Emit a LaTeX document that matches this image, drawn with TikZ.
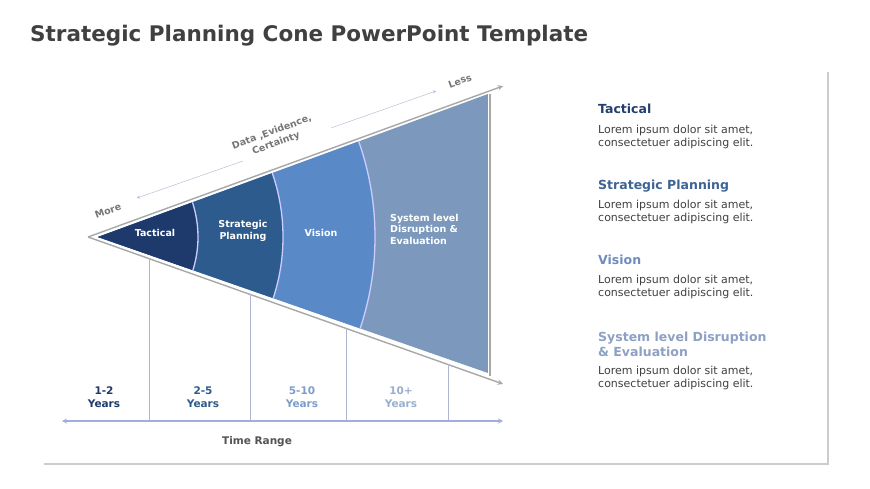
\documentclass[tikz,border=0pt]{standalone}
\usepackage{fontspec}
\setmainfont{DejaVu Sans}
\usepackage{xcolor}
\usetikzlibrary{arrows}
\usetikzlibrary{positioning}
\usetikzlibrary{calc}
\definecolor{tacblue}{HTML}{1E3A6C}
\definecolor{strblue}{HTML}{2D5B8E}
\definecolor{visblue}{HTML}{5A89C8}
\definecolor{sysblue}{HTML}{7C99BD}
\definecolor{conegray}{HTML}{A8A8A8}
\definecolor{tickblue}{HTML}{AEB6D2}
\definecolor{axisblue}{HTML}{A3ACDA}
\definecolor{txtgray}{HTML}{404040}
\definecolor{notegray}{HTML}{767676}
\definecolor{hdone}{HTML}{233F6E}
\definecolor{hdtwo}{HTML}{3E6494}
\definecolor{hdthr}{HTML}{6D8CC0}
\definecolor{hdfour}{HTML}{8DA1C4}
\definecolor{yrthr}{HTML}{7D9DCC}
\definecolor{yrfour}{HTML}{9AAFD0}

\tikzset{
	conelbl/.style={text=white, font=\fontsize{9.5}{11.5}\selectfont\bfseries, align=center, inner sep=0pt},
	notelbl/.style={text=notegray, font=\fontsize{9.5}{12}\selectfont\bfseries, align=center, inner sep=0pt, rotate=20},
	yrlbl/.style={font=\fontsize{10.5}{12.5}\selectfont\bfseries, align=center, inner sep=0pt},
	headlbl/.style={font=\fontsize{12.5}{15}\selectfont\bfseries, anchor=base west, inner sep=0pt, align=left},
	bodylbl/.style={text=txtgray, font=\fontsize{11}{13}\selectfont, anchor=north west, inner sep=0pt, align=left},
	ticks/.style={tickblue, line width=0.9pt},
	bandedge/.style={draw=white!80!blue, line width=1.3pt}
}

\begin{document}
\begin{tikzpicture}[>=stealth, x=1pt, y=-1pt]
			%coordinates
			\coordinate (orig)   at (0,0);
			\coordinate (far)    at (870,489);
			\useasboundingbox[fill=white] (orig) rectangle (far);
			
			\coordinate (PnlA) at (44,464);
			\coordinate (PnlB) at (828,464);
			\coordinate (PnlC) at (828,72);
			
			\coordinate (apex)   at (88,237);
			\coordinate (ArtopA) at (503,86);
			\coordinate (ArbotA) at (503,384);
			\coordinate (fillA)  at (98,237);
			\coordinate (fillT)  at (488,94);
			\coordinate (fillB)  at (488,373);
			\coordinate (shdT)   at (490,94);
			\coordinate (shdB)   at (490,376);
			
			\coordinate (AxL) at (62,421);
			\coordinate (AxR) at (503,421);
			\coordinate (TkoneA) at (149,258);
			\coordinate (TktwoA) at (250,294);
			\coordinate (TkthrA) at (346,328);
			\coordinate (TkfourA) at (448,364);
			
			\coordinate (MoreA) at (243,161);
			\coordinate (MoreB) at (137,198);
			\coordinate (LessA) at (331,128);
			\coordinate (LessB) at (436,91);
			
			%panel shadow
			\draw[gray!40, line width=1.6pt] (PnlA) -- (PnlB) -- (PnlC);
			
			%cone bands
			\begin{scope}
				\clip (fillA) -- (fillT) -- (fillB) -- cycle;
				\fill[sysblue] (fillA) -- (fillT) -- (fillB) -- cycle;
				\filldraw[fill=visblue, bandedge] (apex) circle (287);
				\filldraw[fill=strblue, bandedge] (apex) circle (195);
				\filldraw[fill=tacblue, bandedge] (apex) circle (110);
			\end{scope}
			\draw[conegray, line width=2pt] (shdT) -- (shdB);
			\draw[->, conegray, line width=1.4pt] (apex) -- (ArtopA);
			\draw[->, conegray, line width=1.4pt] (apex) -- (ArbotA);
			
			%nodes
			\node[conelbl] (tac) at (155,233) {Tactical};
			\node[conelbl] (str) at (243,231) {Strategic\\Planning};
			\node[conelbl] (vis) at (321,233) {Vision};
			\node[conelbl, anchor=north west, align=left] (sys) at (390,214) {System level\\Disruption \&\\Evaluation};
			
			\node[notelbl] (more) at (108,211) {More};
			\node[notelbl] (dat) at (274,138) {Data ,Evidence,\\Certainty};
			\node[notelbl] (less) at (460,81) {Less};
			\draw[->, tickblue] (MoreA) -- (MoreB);
			\draw[->, tickblue] (LessA) -- (LessB);
			
			%time range
			\draw[ticks] (TkoneA) -- (TkoneA |- AxL);
			\draw[ticks] (TktwoA) -- (TktwoA |- AxL);
			\draw[ticks] (TkthrA) -- (TkthrA |- AxL);
			\draw[ticks] (TkfourA) -- (TkfourA |- AxL);
			\draw[<->, axisblue, line width=1.2pt] (AxL) -- (AxR);
			
			\node[yrlbl, text=tacblue] (yone) at (104,397) {1-2\\Years};
			\node[yrlbl, text=strblue] (ytwo) at (203,397) {2-5\\Years};
			\node[yrlbl, text=yrthr] (ythr) at (302,397) {5-10\\Years};
			\node[yrlbl, text=yrfour] (yfour) at (401,397) {10+\\Years};
			\node[yrlbl, text=txtgray!90] (trange) at (257,442) {Time Range};
			
			%title
			\node[anchor=base west, inner sep=0pt, text=txtgray, font=\fontsize{21.5}{25}\selectfont\bfseries] (title) at (30,42) {Strategic Planning Cone PowerPoint Template};
			
			%side text
			\node[headlbl, text=hdone] (hone) at (598,114) {Tactical};
			\node[bodylbl] (bone) at (598,125) {Lorem ipsum dolor sit amet,\\consectetuer adipiscing elit.};
			\node[headlbl, text=hdtwo] (htwo) at (598,190) {Strategic Planning};
			\node[bodylbl] (btwo) at (598,200) {Lorem ipsum dolor sit amet,\\consectetuer adipiscing elit.};
			\node[headlbl, text=hdthr] (hthr) at (598,265) {Vision};
			\node[bodylbl] (bthr) at (598,275) {Lorem ipsum dolor sit amet,\\consectetuer adipiscing elit.};
			\node[headlbl, text=hdfour] (hfour) at (598,356) {System level Disruption\\\& Evaluation};
			\node[bodylbl] (bfour) at (598,366) {Lorem ipsum dolor sit amet,\\consectetuer adipiscing elit.};
\end{tikzpicture}
\end{document}
